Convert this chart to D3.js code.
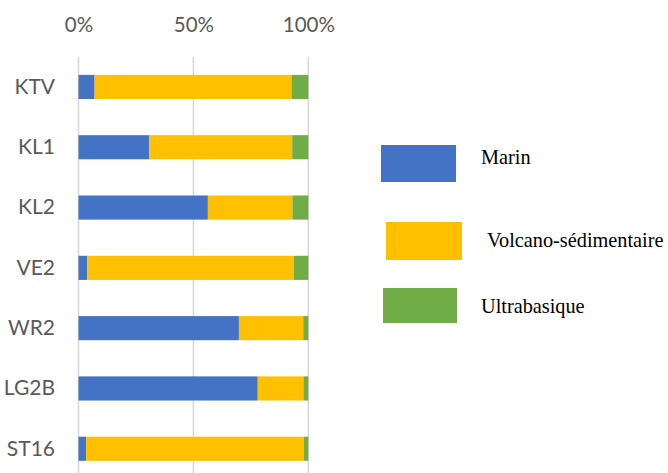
<!DOCTYPE html>
<html>
<head>
<meta charset="utf-8">
<script src="https://cdn.jsdelivr.net/npm/d3@7"></script>
<style>
  html, body { margin: 0; padding: 0; background: #fff; }
  svg { display: block; }
</style>
</head>
<body>
<svg id="chart" width="668" height="473"></svg>
<script>
// Sample sites, top to bottom
const sites = ["KTV", "KL1", "KL2", "VE2", "WR2", "LG2B", "ST16"];
// Share of each source (%) per site
const marin = [7.0, 30.8, 56.3, 3.8, 69.8, 78.0, 3.3];
const volcano = [85.7, 62.2, 36.8, 89.9, 28.0, 19.9, 94.7];
const ultra = [7.3, 7.0, 6.9, 6.3, 2.2, 2.1, 2.0];
const seriesNames = ["Marin", "Volcano-sédimentaire", "Ultrabasique"];
const seriesColors = ["#4472c4", "#ffc000", "#70ad47"];
const tickValues = [0, 0.5, 1];

const svg = d3.select("#chart");

const rows = sites.map((s, i) => ({ site: s, Marin: marin[i], "Volcano-sédimentaire": volcano[i], Ultrabasique: ultra[i] }));
const stack = d3.stack().keys(seriesNames).offset(d3.stackOffsetExpand);
const layers = stack(rows);

const x = d3.scaleLinear().domain([0, 1]).range([78.5, 308.3]);
const y = d3.scaleBand().domain(sites).range([56.8, 478.9]).paddingInner(0.6).paddingOuter(0.3);

// Vertical gridlines
svg.append("g")
  .selectAll("line")
  .data(tickValues)
  .join("line")
  .attr("x1", d => x(d)).attr("x2", d => x(d))
  .attr("y1", 57).attr("y2", 473)
  .attr("stroke", "#d9d9d9")
  .attr("stroke-width", 1.6);

// Top axis labels
const xAxis = d3.axisTop(x).tickValues(tickValues).tickFormat(d3.format(".0%")).tickSize(0).tickPadding(0);
const gx = svg.append("g").attr("transform", "translate(0,32)").call(xAxis);
gx.select(".domain").remove();
gx.selectAll("text")
  .attr("fill", "#595959")
  .attr("font-family", "Lato, 'Open Sans', sans-serif")
  .attr("font-size", 20.5)
  .attr("dy", 0);

// Stacked bars
svg.append("g")
  .selectAll("g")
  .data(layers)
  .join("g")
  .attr("fill", (d, i) => seriesColors[i])
  .selectAll("rect")
  .data(d => d)
  .join("rect")
  .attr("x", d => x(d[0]))
  .attr("width", d => x(d[1]) - x(d[0]))
  .attr("y", d => y(d.data.site))
  .attr("height", y.bandwidth());

// Category labels
const yAxis = d3.axisLeft(y).tickSize(0).tickPadding(0);
const gy = svg.append("g").attr("transform", "translate(55,0)").call(yAxis);
gy.select(".domain").remove();
gy.selectAll("text")
  .attr("fill", "#595959")
  .attr("font-family", "Lato, 'Open Sans', sans-serif")
  .attr("font-size", 21)
  .attr("dy", "0.33em");

// Legend
const legendItems = [
  { name: seriesNames[0], color: seriesColors[0], rx: 381, ry: 145, rw: 75, rh: 37, tx: 481, ty: 164 },
  { name: seriesNames[1], color: seriesColors[1], rx: 386, ry: 222, rw: 76, rh: 38, tx: 487, ty: 247 },
  { name: seriesNames[2], color: seriesColors[2], rx: 383, ry: 288, rw: 74, rh: 35, tx: 481, ty: 313 }
];
const lg = svg.append("g").selectAll("g").data(legendItems).join("g");
lg.append("rect")
  .attr("x", d => d.rx).attr("y", d => d.ry)
  .attr("width", d => d.rw).attr("height", d => d.rh)
  .attr("fill", d => d.color);
lg.append("text")
  .attr("x", d => d.tx).attr("y", d => d.ty)
  .attr("font-family", "'Liberation Serif', 'Times New Roman', serif")
  .attr("font-size", 20.3)
  .attr("fill", "#000")
  .text(d => d.name);
</script>
</body>
</html>
